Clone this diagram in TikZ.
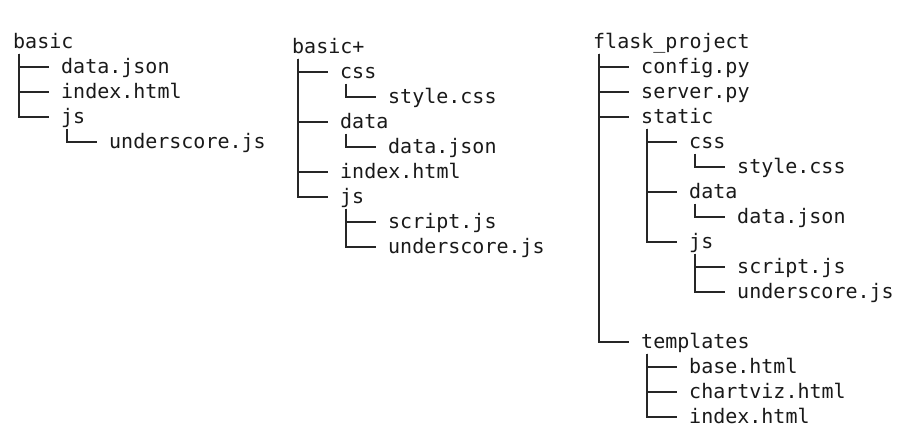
\documentclass[tikz,border=0pt]{standalone}
\usepackage{fontspec}
\newfontfamily\treefont{DejaVu Sans Mono}
\usepackage{tikz}

\tikzset{
  entry/.style={anchor=base west,inner sep=0pt,font=\treefont\fontsize{20}{25}\selectfont,text=black!90},
  treeline/.style={line width=1.6pt,black!85}
}

\begin{document}
\begin{tikzpicture}[x=1pt,y=-1pt]
  \useasboundingbox (0,0) rectangle (909,439);
  % basic
  \node[entry] (basic) at (13,48) {basic};
  \node[entry] (bdata) at (61,73) {data.json};
  \node[entry] (bindex) at (61,98) {index.html};
  \node[entry] (bjs) at (61,123) {js};
  \node[entry] (bunder) at (109,148) {underscore.js};
  % basic+
  \node[entry] (plus) at (292,53) {basic+};
  \node[entry] (pcss) at (340,78) {css};
  \node[entry] (pstyle) at (388,103) {style.css};
  \node[entry] (pdata) at (340,128) {data};
  \node[entry] (pjson) at (388,153) {data.json};
  \node[entry] (pindex) at (340,178) {index.html};
  \node[entry] (pjs) at (340,203) {js};
  \node[entry] (pscript) at (388,228) {script.js};
  \node[entry] (punder) at (388,253) {underscore.js};
  % flask_project
  \node[entry] (flask) at (593,48) {flask\_project};
  \node[entry] (fconfig) at (641,73) {config.py};
  \node[entry] (fserver) at (641,98) {server.py};
  \node[entry] (fstatic) at (641,123) {static};
  \node[entry] (fcss) at (689,148) {css};
  \node[entry] (fstyle) at (737,173) {style.css};
  \node[entry] (fdata) at (689,198) {data};
  \node[entry] (fjson) at (737,223) {data.json};
  \node[entry] (fjs) at (689,248) {js};
  \node[entry] (fscript) at (737,273) {script.js};
  \node[entry] (funder) at (737,298) {underscore.js};
  \node[entry] (ftempl) at (641,348) {templates};
  \node[entry] (fbase) at (689,373) {base.html};
  \node[entry] (fchart) at (689,398) {chartviz.html};
  \node[entry] (findex) at (689,423) {index.html};
  % branches
  \foreach \p/\c in {basic/bdata,basic/bindex,basic/bjs,bjs/bunder,
      plus/pcss,plus/pdata,plus/pindex,plus/pjs,pcss/pstyle,pdata/pjson,pjs/pscript,pjs/punder,
      flask/fconfig,flask/fserver,flask/fstatic,flask/ftempl,fstatic/fcss,fstatic/fdata,fstatic/fjs,
      fcss/fstyle,fdata/fjson,fjs/fscript,fjs/funder,ftempl/fbase,ftempl/fchart,ftempl/findex}
    \draw[treeline] ([xshift=6pt,yshift=-5.5pt]\p.base west) |- ([xshift=-12pt,yshift=6pt]\c.base west);
\end{tikzpicture}
\end{document}
